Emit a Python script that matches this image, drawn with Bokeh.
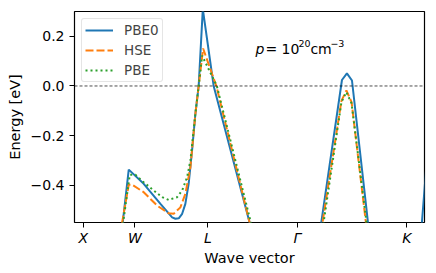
from bokeh.plotting import figure
from bokeh.models import FixedTicker, Span, Label, Range1d
from bokeh.embed import file_html
from bokeh.resources import INLINE

# k-path tick positions and labels
k_ticks = [0.0, 0.5, 1.2071, 2.0731, 3.1338]
k_labels = ["X", "W", "L", "Γ", "K"]

# PBE0 band
k_pbe0 = [0.0, 0.35, 0.441, 0.586, 0.748, 0.861, 0.893, 0.925, 0.958, 0.989, 1.021,
          1.054, 1.086, 1.118, 1.158, 1.263, 1.611, 1.70, 2.0, 2.235, 2.505, 2.553,
          2.602, 2.811, 3.0, 3.26, 3.33]
e_pbe0 = [-1.2, -0.671, -0.337, -0.394, -0.475, -0.529, -0.535, -0.533, -0.515, -0.475, -0.394,
          -0.260, -0.113, 0.0, 0.31, 0.0, -0.55, -0.70, -1.0, -0.75, 0.024, 0.051,
          0.022, -0.75, -1.0, -0.65, -0.28]

# HSE band
k_hse = [0.0, 0.35, 0.441, 0.474, 0.586, 0.716, 0.828, 0.876, 0.941, 0.989, 1.038,
         1.086, 1.118, 1.161, 1.289, 1.611, 1.70, 2.0, 2.242, 2.500, 2.548, 2.598,
         2.794, 3.0, 3.33]
e_hse = [-1.2, -0.614, -0.398, -0.398, -0.428, -0.482, -0.513, -0.515, -0.489, -0.435, -0.328,
         -0.113, 0.0, 0.151, 0.0, -0.55, -0.70, -1.0, -0.75, -0.06, -0.018, -0.065,
         -0.75, -1.0, -0.8]

# PBE band
k_pbe = [0.0, 0.35, 0.451, 0.506, 0.586, 0.683, 0.764, 0.828, 0.909, 0.958, 1.006,
         1.038, 1.086, 1.118, 1.151, 1.294, 1.623, 1.71, 2.0, 2.256, 2.500, 2.548, 2.598,
         2.803, 3.0, 3.33]
e_pbe = [-1.2, -0.661, -0.358, -0.358, -0.388, -0.421, -0.448, -0.459, -0.448, -0.421, -0.368,
         -0.300, -0.113, 0.0, 0.122, 0.0, -0.55, -0.70, -1.0, -0.75, -0.065, -0.025, -0.07,
         -0.75, -1.0, -0.8]

y_ticks = [-0.4, -0.2, 0.0, 0.2]
y_tick_labels = ["−0.4", "−0.2", "0.0", "0.2"]

# annotation pieces: (text, font size, italic, x offset px, raised px)
note_x, note_y = 1.667, 0.148
note_parts = [("p", "14px", True, 0, 0),
              ("= 10", "14px", False, 10, 0),
              ("20", "9.5px", False, 43, 5.5),
              ("cm", "14px", False, 55, 0),
              ("−3", "9.5px", False, 75, 5.5)]

FONT = "DejaVu Sans"

p = figure(width=430, height=270, output_backend="svg", toolbar_location=None,
           x_range=Range1d(-0.084, 3.304), y_range=Range1d(-0.55, 0.30),
           min_border_left=74, min_border_right=6, min_border_top=11, min_border_bottom=48)

p.background_fill_color = "white"
p.border_fill_color = "white"
p.outline_line_color = "black"
p.outline_line_width = 1.2
p.xgrid.visible = False
p.ygrid.visible = False

p.line(k_pbe0, e_pbe0, line_color="#1f77b4", line_width=2, legend_label="PBE0")
p.line(k_hse, e_hse, line_color="#ff7f0e", line_width=2, line_dash="8 3", legend_label="HSE")
p.line(k_pbe, e_pbe, line_color="#2ca02c", line_width=2, line_dash="2 3", legend_label="PBE")

p.add_layout(Span(location=0, dimension="width", line_color="black",
                  line_width=0.7, line_dash="3 2"))

# axes
for ax in (p.xaxis[0], p.yaxis[0]):
    ax.axis_line_color = None
    ax.major_tick_in = 0
    ax.major_tick_out = 5
    ax.major_tick_line_color = "black"
    ax.major_tick_line_width = 1
    ax.minor_tick_line_color = None
    ax.major_label_text_font = FONT
    ax.major_label_text_font_size = "14px"
    ax.major_label_text_color = "black"
    ax.axis_label_text_font = FONT
    ax.axis_label_text_font_size = "14.5px"
    ax.axis_label_text_font_style = "normal"
    ax.axis_label_text_color = "black"

p.xaxis.ticker = FixedTicker(ticks=k_ticks)
p.xaxis.major_label_overrides = {t: l for t, l in zip(k_ticks, k_labels)}
p.xaxis.major_label_text_font_style = "italic"
p.xaxis.major_label_standoff = 2
p.xaxis.axis_label = "Wave vector"
p.xaxis.axis_label_standoff = 1

p.yaxis.ticker = FixedTicker(ticks=y_ticks)
p.yaxis.major_label_overrides = {t: l for t, l in zip(y_ticks, y_tick_labels)}
p.yaxis.major_label_standoff = 5
p.yaxis.axis_label = "Energy [eV]"
p.yaxis.axis_label_standoff = 5

# annotation p = 10^20 cm^-3
for txt, size, italic, dx, dy in note_parts:
    p.add_layout(Label(x=note_x, y=note_y, x_offset=dx, y_offset=dy, text=txt,
                       text_font=FONT, text_font_size=size,
                       text_font_style="italic" if italic else "normal",
                       text_baseline="alphabetic", text_color="black"))

# legend
lg = p.legend[0]
lg.location = "top_left"
lg.margin = 7
lg.padding = 3
lg.spacing = 4
lg.glyph_width = 28
lg.glyph_height = 16
lg.label_height = 16
lg.label_standoff = 11
lg.label_text_font = FONT
lg.label_text_font_size = "13.5px"
lg.border_line_color = "#cccccc"
lg.border_line_width = 1
lg.background_fill_alpha = 0.8
if "border_radius" in lg.properties():
    lg.border_radius = 3

open("out.html", "w").write(file_html(p, INLINE))
